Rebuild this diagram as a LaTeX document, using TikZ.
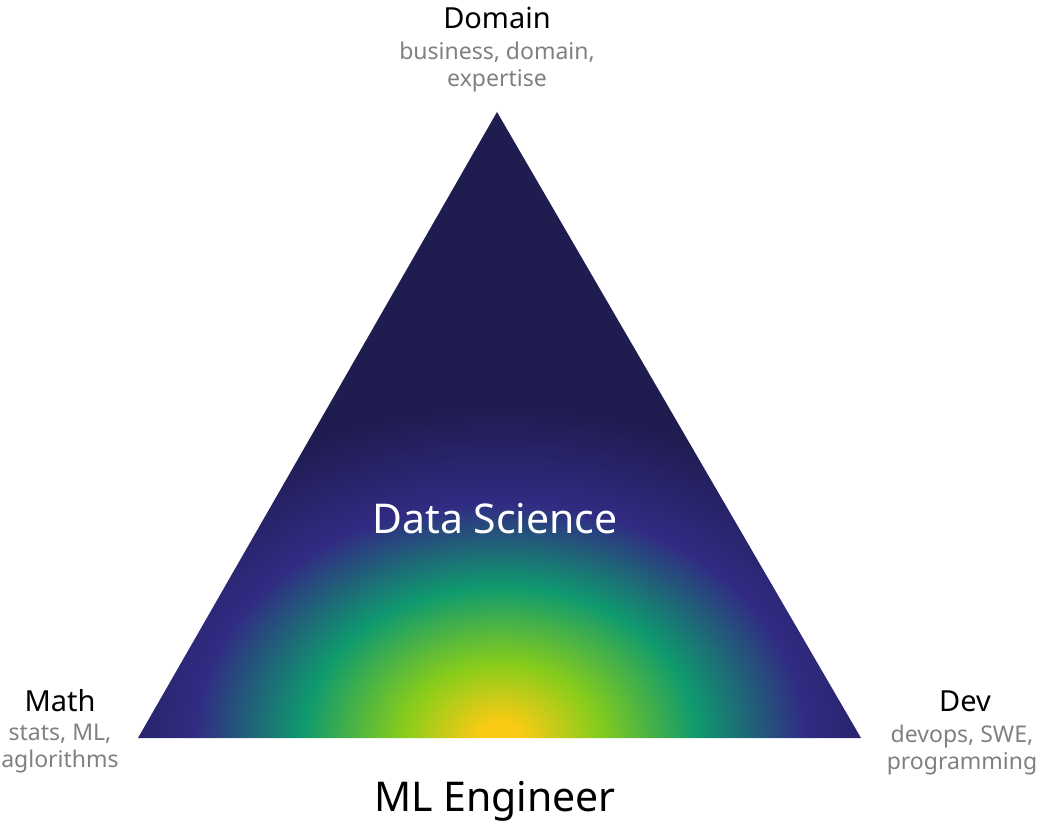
\documentclass[tikz,border=0pt]{standalone}
\usepackage{fontspec}
\setmainfont{Noto Sans}

\definecolor{glowyellow}{HTML}{F9CB14}
\definecolor{glowlime}{HTML}{86CC1C}
\definecolor{glowgreen}{HTML}{0F9A6E}
\definecolor{glowpurple}{HTML}{312B83}
\definecolor{glownavy}{HTML}{1F1C50}
\definecolor{subgray}{HTML}{808080}

% circular glow, stretched wider by the box it fills
\pgfdeclareradialshading{mlglow}{\pgfpointorigin}{%
  color(0bp)=(glowyellow); color(0.6bp)=(glowyellow); color(2.7bp)=(glowlime);
  color(5.4bp)=(glowgreen); color(8.4bp)=(glowpurple); color(11.8bp)=(glownavy);
  color(50bp)=(glownavy)}

\tikzset{
  corner/.style={anchor=base,inner sep=0pt,font=\fontsize{29}{34}\selectfont},
  corsub/.style={anchor=base,inner sep=0pt,align=center,text=subgray,
    font=\fontsize{23}{27}\selectfont},
  bigname/.style={anchor=base,inner sep=0pt,font=\fontsize{41}{48}\selectfont}
}

\begin{document}
\begin{tikzpicture}[x=1pt,y=-1pt]
  \useasboundingbox (0,0) rectangle (1044,824);

  \begin{scope}
    \clip (497,112) -- (138,738) -- (861,738) -- cycle;
    \shade[shading=mlglow] (-410,38) rectangle (1410,1438);
  \end{scope}

  \node[corner] (domain) at (497,29) {Domain};
  \node[corsub] (domainsub) at (497,87) {business, domain,\\expertise};

  \node[corner] (math) at (60,711) {Math};
  \node[corsub] (mathsub) at (60,767) {stats, ML,\\aglorithms};

  \node[corner] (dev) at (965,711) {Dev};
  \node[corsub] (devsub) at (962,769) {devops, SWE,\\programming};

  \node[bigname,text=white] (ds) at (495,533) {Data Science};
  \node[bigname] (mle) at (495,811) {ML Engineer};
\end{tikzpicture}
\end{document}
